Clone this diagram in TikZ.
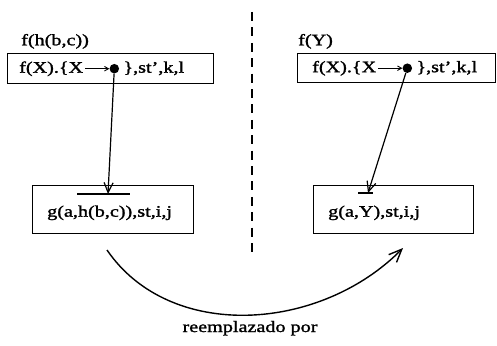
\documentclass[tikz,border=0pt]{standalone}
\usepackage{fontspec}
\setmainfont{Liberation Serif}[FakeStretch=1.26, FakeBold=1.5]
\usetikzlibrary{positioning, arrows.meta, calc}

\begin{document}
\begin{tikzpicture}[x=1pt, y=-1pt,
    box/.style={draw, line width=1.4pt, inner sep=0pt},
    txt/.style={inner sep=0pt, font=\fontsize{16}{19}\selectfont, text height=11.5pt, text depth=3.5pt},
    bullet/.style={circle, fill, inner sep=0pt, minimum size=9.5pt},
    link/.style={line width=1.2pt, -{Straight Barb[length=10pt, width=9pt]}},
    small arrow/.style={line width=0.9pt, shorten <=2pt, -{Straight Barb[length=4pt, width=4.5pt]}}]
    \useasboundingbox (0,0) rectangle (497,345);

    % left: before replacement
    \node[box, minimum width=206pt, minimum height=30pt, anchor=north west] (fL) at (7,53) {};
    \node[txt, anchor=west] (fLa) at ($(fL.west)+(12,0)$) {f(X).\{X};
    \node[bullet, right=26pt of fLa] (dotL) {};
    \node[txt, right=4pt of dotL] (fLb) {\},st',k,l};
    \draw[small arrow] (fLa) -- (dotL);
    \node[txt, anchor=south west] (labL) at (21,49) {f(h(b,c))};

    \node[box, minimum width=161pt, minimum height=48pt, anchor=north west] (gL) at (32,185) {};
    \node[txt, anchor=west] (gLt) at ($(gL.west)+(15,3)$) {g(a,h(b,c)),st,i,j};
    \coordinate (barL) at (108,194);
    \draw[line width=1.4pt] ($(barL)+(-31,0)$) -- ($(barL)+(22,0)$);
    \draw[link] (dotL) -- (barL);

    % right: after replacement
    \node[box, minimum width=198pt, minimum height=29pt, anchor=north west] (fR) at (297,53) {};
    \node[txt, anchor=west] (fRa) at ($(fR.west)+(15,0)$) {f(X).\{X};
    \node[bullet, right=26pt of fRa] (dotR) {};
    \node[txt, right=4pt of dotR] (fRb) {\},st',k,l};
    \draw[small arrow] (fRa) -- (dotR);
    \node[txt, anchor=south west] (labR) at (298,49) {f(Y)};

    \node[box, minimum width=160pt, minimum height=48pt, anchor=north west] (gR) at (313,185) {};
    \node[txt, anchor=west] (gRt) at ($(gR.west)+(15,3)$) {g(a,Y),st,i,j};
    \coordinate (barR) at (368,193);
    \draw[line width=1.4pt] ($(barR)+(-10,0)$) -- ($(barR)+(5,0)$);
    \draw[link] (dotR) -- (barR);

    % separator
    \draw[line width=1.4pt, dash pattern=on 9pt off 6.4pt] (252,12) -- (252,258);

    % replacement arc
    \coordinate (cA) at (107,250);
    \coordinate (cB) at (403,248);
    \draw[line width=1.4pt, -{Straight Barb[length=13pt, width=11pt]}] (cA) .. controls (170,342) and (320,332) .. (cB);
    \node[txt] (rep) at (250,328) {reemplazado por};
\end{tikzpicture}
\end{document}
